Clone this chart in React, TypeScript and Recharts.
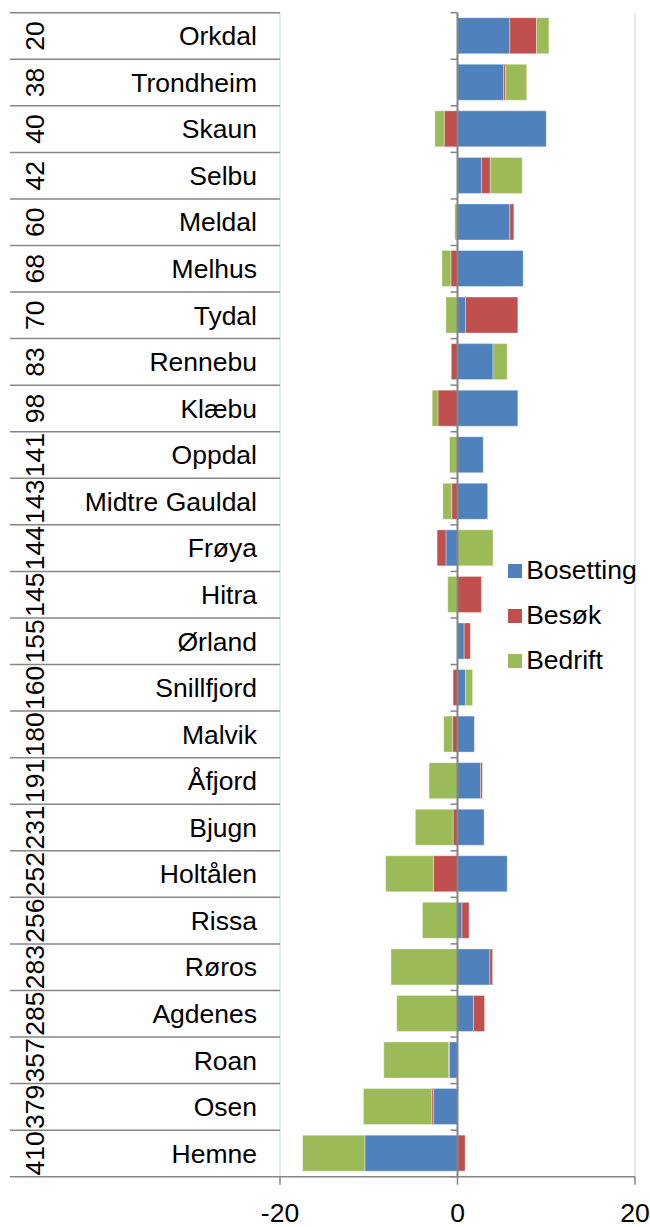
import React from 'react';
import {
  BarChart,
  Bar,
  XAxis,
  YAxis,
  CartesianGrid,
  ReferenceLine,
  Legend
} from 'recharts';

// Kommuner i Sør-Trøndelag, sortert etter rangering
const kommuner = [
  'Orkdal', 'Trondheim', 'Skaun', 'Selbu', 'Meldal', 'Melhus', 'Tydal', 'Rennebu',
  'Klæbu', 'Oppdal', 'Midtre Gauldal', 'Frøya', 'Hitra', 'Ørland', 'Snillfjord',
  'Malvik', 'Åfjord', 'Bjugn', 'Holtålen', 'Rissa', 'Røros', 'Agdenes', 'Roan',
  'Osen', 'Hemne'
];
const rangering = [
  20, 38, 40, 42, 60, 68, 70, 83, 98, 141, 143, 144, 145, 155, 160, 180, 191,
  231, 252, 256, 283, 285, 357, 379, 410
];
const bosetting = [
  5.9, 5.2, 10.0, 2.7, 5.9, 7.4, 0.9, 4.0, 6.8, 2.9, 3.4, -1.3, 0, 0.75, 0.9,
  1.9, 2.6, 3.0, 5.6, 0.5, 3.65, 1.8, -0.9, -2.7, -10.45
];
const besok = [
  3.0, 0.2, -1.5, 1.0, 0.45, -0.75, 5.9, -0.7, -2.2, 0, -0.65, -1.0, 2.7, 0.7,
  -0.5, -0.55, 0.2, -0.5, -2.7, 0.8, 0.3, 1.25, -0.1, -0.2, 0.85
];
const bedrift = [
  1.4, 2.4, -1.05, 3.6, -0.3, -1.0, -1.3, 1.6, -0.65, -0.9, -1.0, 4.0, -1.1, 0,
  0.8, -1.0, -3.2, -4.25, -5.4, -3.95, -7.5, -6.85, -7.3, -7.7, -7.0
];
const xTicks = [-20, 0, 20];

const serier = [
  { key: 'bosetting', navn: 'Bosetting', farge: '#4F81BD' },
  { key: 'besok', navn: 'Besøk', farge: '#C0504D' },
  { key: 'bedrift', navn: 'Bedrift', farge: '#9BBB59' }
];

const data = kommuner.map((navn, i) => ({
  navn,
  rang: rangering[i],
  bosetting: bosetting[i],
  besok: besok[i],
  bedrift: bedrift[i]
}));

const W = 650;
const H = 1227;
const MARGIN = { top: 12.7, right: 15, bottom: 0, left: 10 };
const X_AXIS_H = 50.3;
const Y_AXIS_W = 270;
const FONT = '"Liberation Sans", Arial, sans-serif';
const AXIS_GREY = '#868686';

const plotLeft = MARGIN.left + Y_AXIS_W;
const plotWidth = W - plotLeft - MARGIN.right;
const zeroX = plotLeft + plotWidth / 2;
const rowH = (H - MARGIN.top - MARGIN.bottom - X_AXIS_H) / kommuner.length;

// To-nivås kategoriakse: rotert rangering + kommunenavn, med skillelinjer
const KategoriTick = (props: any) => {
  const { y, index, payload } = props;
  const top = y - rowH / 2;
  const bottom = y + rowH / 2;
  const last = index === kommuner.length - 1;
  return (
    <g>
      <line x1={MARGIN.left} x2={plotLeft} y1={top} y2={top} stroke={AXIS_GREY} strokeWidth={1.5} />
      {last && (
        <line x1={MARGIN.left} x2={plotLeft} y1={bottom} y2={bottom} stroke={AXIS_GREY} strokeWidth={1.5} />
      )}
      <line x1={zeroX - 7} x2={zeroX} y1={top} y2={top} stroke={AXIS_GREY} strokeWidth={1.5} />
      {last && (
        <line x1={zeroX - 7} x2={zeroX} y1={bottom} y2={bottom} stroke={AXIS_GREY} strokeWidth={1.5} />
      )}
      <text
        x={257}
        y={y}
        dy="0.35em"
        textAnchor="end"
        fontSize={26.5}
        fontFamily={FONT}
        fill="#000"
      >
        {payload.value}
      </text>
      <text
        transform={`translate(44, ${y}) rotate(-90)`}
        textAnchor="middle"
        fontSize={26.5}
        fontFamily={FONT}
        fill="#000"
      >
        {data[index].rang}
      </text>
    </g>
  );
};

const Forklaring = () => (
  <div style={{ fontFamily: FONT, fontSize: 26.5, color: '#000' }}>
    {serier.map((s) => (
      <div key={s.key} style={{ display: 'flex', alignItems: 'center', height: 45 }}>
        <span
          style={{
            display: 'inline-block',
            width: 14,
            height: 14,
            background: s.farge,
            marginRight: 4.5
          }}
        />
        <span>{s.navn}</span>
      </div>
    ))}
  </div>
);

export default function App() {
  return (
    <div style={{ position: 'absolute', left: 0, top: 0, width: W, height: H, background: '#fff' }}>
      <BarChart
        width={W}
        height={H}
        data={data}
        layout="vertical"
        stackOffset="sign"
        margin={MARGIN}
        barSize={36}
      >
        <CartesianGrid horizontal={false} stroke="#D9E3F2" strokeWidth={1.5} />
        <XAxis
          type="number"
          domain={[-20, 20]}
          ticks={xTicks}
          interval={0}
          allowDataOverflow
          height={X_AXIS_H}
          stroke={AXIS_GREY}
          axisLine={{ stroke: AXIS_GREY, strokeWidth: 1.5 }}
          tickLine={{ stroke: AXIS_GREY, strokeWidth: 1.5 }}
          tickSize={8}
          tickMargin={18}
          tick={{ fontSize: 26.5, fontFamily: FONT, fill: '#000' }}
        />
        <YAxis
          type="category"
          dataKey="navn"
          width={Y_AXIS_W}
          axisLine={false}
          tickLine={false}
          interval={0}
          tick={<KategoriTick />}
        />
        {serier.map((s) => (
          <Bar
            key={s.key}
            dataKey={s.key}
            name={s.navn}
            stackId="a"
            fill={s.farge}
            stroke="rgba(255,255,255,0.35)"
            strokeWidth={1}
            isAnimationActive={false}
          />
        ))}
        <ReferenceLine x={0} stroke={AXIS_GREY} strokeWidth={2} />
        <Legend
          layout="horizontal"
          verticalAlign="middle"
          align="center"
          content={<Forklaring />}
          wrapperStyle={{ position: 'absolute', left: 507.7, top: 548, width: 140 }}
        />
      </BarChart>
    </div>
  );
}
